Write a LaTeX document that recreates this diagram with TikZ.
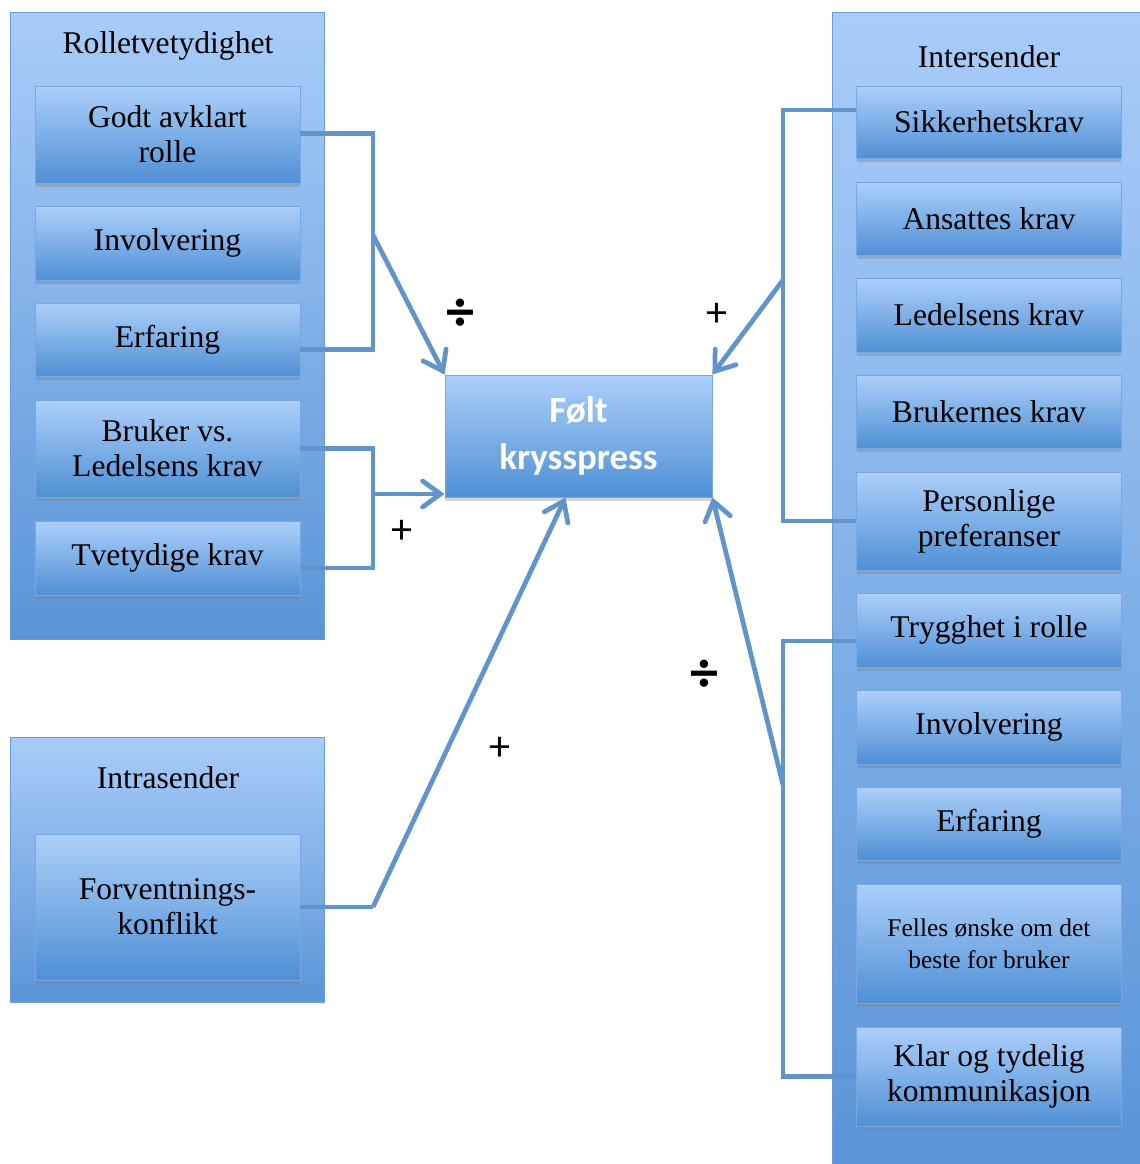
\documentclass[tikz,border=0pt]{standalone}
\usepackage{fontspec}
\setmainfont{Liberation Serif}
\newfontfamily\calib{Carlito}
\usepackage{tikz}
\usetikzlibrary{positioning,arrows.meta,calc,shadows}
\definecolor{boxtop}{RGB}{172,207,250}
\definecolor{boxbot}{RGB}{80,144,213}
\definecolor{boxline}{RGB}{120,168,225}
\definecolor{grptop}{RGB}{168,204,249}
\definecolor{grpbot}{RGB}{90,148,215}
\definecolor{grpline}{RGB}{105,155,212}
\definecolor{linkc}{RGB}{98,148,204}

\begin{document}
\begin{tikzpicture}[x=0.02cm, y=-0.02cm,
		group/.style={draw=grpline, line width=0.6pt, top color=grptop,
			bottom color=grpbot},
		item/.style={draw=boxline, line width=0.5pt, top color=boxtop,
			bottom color=boxbot, minimum width=5.3cm, align=center,
			font=\fontsize{18}{20}\selectfont,
			drop shadow={shadow xshift=0pt, shadow yshift=-2.5pt, opacity=0.35}},
		title/.style={font=\fontsize{18}{20}\selectfont},
		link/.style={draw=linkc, line width=2.7pt},
		arr/.style={link, -{Straight Barb[length=3.6mm,width=5.2mm,line cap=round]}},
		sign/.style={font=\calib\fontsize{24}{24}\selectfont},
		divsign/.style={font=\calib\bfseries\fontsize{32}{32}\selectfont}]
		\useasboundingbox (0,0) rectangle (1140,1164);
		% groups
		\node[group, minimum width=6.3cm, minimum height=12.56cm] (rolle) at (167.5,326) {};
		\node[group, minimum width=6.3cm, minimum height=5.3cm] (intra) at (167.5,869.5) {};
		\node[group, minimum width=6.6cm, minimum height=23.4cm] (inter) at (997,597) {};
		\node[title] (trolle) at (168,46) {Rolletvetydighet};
		\node[title] (tintra) at (168,778) {Intrasender};
		\node[title] (tinter) at (989,57) {Intersender};
		% left items
		\node[item, minimum height=1.94cm] (godt) at (167.5,134.5) {Godt avklart\\rolle};
		\node[item, minimum height=1.48cm] (invl) at (167.5,243) {Involvering};
		\node[item, minimum height=1.46cm] (erfl) at (167.5,339.5) {Erfaring};
		\node[item, minimum height=1.94cm] (bruker) at (167.5,448.5) {Bruker vs.\\Ledelsens krav};
		\node[item, minimum height=1.48cm] (tvet) at (167.5,558) {Tvetydige krav};
		\node[item, minimum height=2.92cm] (forv) at (167.5,907) {Forventnings-\\konflikt};
		% right items
		\node[item, minimum height=1.44cm] (sikk) at (989,122) {Sikkerhetskrav};
		\node[item, minimum height=1.46cm] (ansatt) at (989,218.5) {Ansattes krav};
		\node[item, minimum height=1.48cm] (ledel) at (989,315) {Ledelsens krav};
		\node[item, minimum height=1.46cm] (brukern) at (989,411.5) {Brukernes krav};
		\node[item, minimum height=1.96cm] (pers) at (989,521) {Personlige\\preferanser};
		\node[item, minimum height=1.48cm] (tryg) at (989,630) {Trygghet i rolle};
		\node[item, minimum height=1.48cm] (invr) at (989,727) {Involvering};
		\node[item, minimum height=1.46cm] (erfr) at (989,823.5) {Erfaring};
		\node[item, minimum height=2.38cm, font=\fontsize{14.5}{18}\selectfont] (felles) at (989,943.5)
			{Felles ønske om det\\beste for bruker};
		\node[item, minimum height=1.98cm] (klar) at (989,1076.5) {Klar og tydelig\\kommunikasjon};
		% centre
		\node[item, minimum width=5.34cm, minimum height=2.44cm, text=white,
			font=\calib\bfseries\fontsize{21}{27}\selectfont] (felt) at (578.5,436) {Følt\\krysspress};
		% connectors
		\coordinate (bl1) at (373,235);
		\coordinate (bl2) at (373,494);
		\coordinate (bl3) at (373,907);
		\coordinate (br1) at (783,280);
		\coordinate (br2) at (783,785);
		\draw[link] ([yshift=0.02cm]godt.east) -| (bl1) |- ([yshift=-0.2cm]erfl.east);
		\draw[arr] (bl1) -- (felt.north west);
		\draw[link] (bruker.east) -| (bl2) |- ([yshift=-0.2cm]tvet.east);
		\draw[arr] (bl2) -- (felt.west |- bl2);
		\draw[link] (forv.east) -- (bl3);
		\draw[arr] (bl3) -- ([xshift=-0.26cm]felt.south);
		\draw[link] ([yshift=0.24cm]sikk.west) -| (br1) |- (pers.west);
		\draw[arr] (br1) -- (felt.north east);
		\draw[link] ([yshift=-0.22cm]tryg.west) -| (br2) |- (klar.west);
		\draw[arr] (br2) -- (felt.south east);
		% signs
		\node[divsign] (s1) at (460,315) {÷};
		\node[sign] (s2) at (717,315) {+};
		\node[sign] (s3) at (402,532) {+};
		\node[sign] (s4) at (500,749) {+};
		\node[divsign] (s5) at (704,676) {÷};
	\end{tikzpicture}
\end{document}
